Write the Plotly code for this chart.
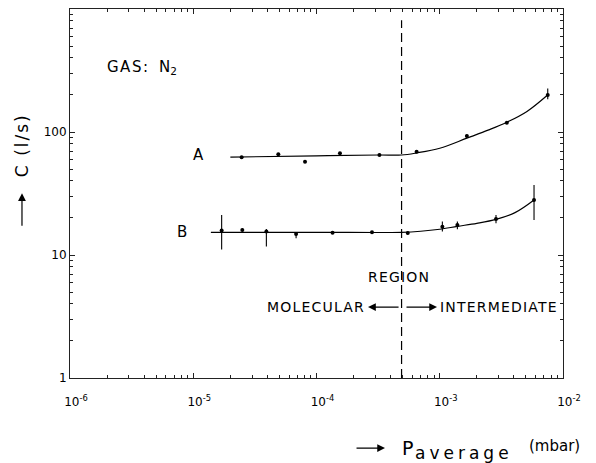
import plotly.graph_objects as go

# ---------------- data ----------------
X_TICK_VALS = [1e-6, 1e-5, 1e-4, 1e-3, 1e-2]
X_TICK_TEXT = ["10<sup>-6</sup>", "10<sup>-5</sup>", "10<sup>-4</sup>", "10<sup>-3</sup>", "10<sup>-2</sup>"]
Y_TICK_VALS = [1, 10, 100, 1000]
Y_TICK_TEXT = ["1", "10", "100", ""]

# curve A measured points (p_average in mbar, C in l/s) with error-bar ends
A_P = [2.47e-5, 4.90e-5, 8.07e-5, 1.55e-4, 3.24e-4, 6.49e-4, 1.66e-3, 3.50e-3, 7.52e-3]
A_C = [62.3, 65.9, 57.4, 67.1, 65.0, 69.2, 92.8, 119, 200]
A_HI = [63.6, 67.3, 58.6, 68.5, 66.4, 70.7, 95.5, 122.5, 226]
A_LO = [61.1, 64.6, 56.2, 65.8, 63.7, 67.8, 90.2, 116, 185]

# curve B measured points with error-bar ends
B_P = [1.70e-5, 2.50e-5, 3.92e-5, 6.83e-5, 1.35e-4, 2.82e-4, 5.50e-4, 1.05e-3, 1.39e-3, 2.86e-3, 5.82e-3]
B_C = [15.8, 16.0, 15.5, 14.8, 15.2, 15.3, 15.1, 17.0, 17.5, 19.6, 28.0]
B_HI = [21.1, 16.4, 16.3, 15.3, 15.5, 15.6, 15.5, 18.7, 18.7, 21.1, 37.1]
B_LO = [11.1, 15.6, 11.7, 13.7, 14.9, 15.0, 14.7, 15.5, 16.2, 18.1, 19.3]

# fitted curves
FIT_A_P = [2.0e-5, 1e-4, 3.2e-4, 4.9e-4, 6.5e-4, 1e-3, 1.66e-3, 2.5e-3, 3.5e-3, 5.1e-3, 7.5e-3]
FIT_A_C = [62.5, 64.0, 65.0, 65.0, 67.6, 73.8, 89.1, 104, 120, 147, 200]
FIT_B_P = [1.39e-5, 1e-4, 4.9e-4, 7e-4, 1e-3, 1.39e-3, 2e-3, 2.86e-3, 4.08e-3, 5.82e-3]
FIT_B_C = [15.3, 15.3, 15.3, 15.6, 16.2, 17.1, 18.1, 19.5, 22.1, 28.0]

# transition between molecular and intermediate flow
TRANSITION_P = 4.9e-4
TRANSITION_C = [1, 810]

MINOR_X = [m * 10.0 ** e for e in range(-6, -2) for m in range(2, 10)]
MINOR_Y = [m * 10.0 ** e for e in range(0, 3) for m in range(2, 10)]

FONT = "DejaVu Sans"
LS = "letter-spacing:1.2px"


def errs(vals, hi, lo):
    return [h - v for v, h in zip(vals, hi)], [v - l for v, l in zip(vals, lo)]


fig = go.Figure()

for px_, cy_ in ((FIT_A_P, FIT_A_C), (FIT_B_P, FIT_B_C)):
    fig.add_trace(go.Scatter(x=px_, y=cy_, mode="lines",
                             line=dict(color="black", width=1.2, shape="spline", smoothing=1.0),
                             hoverinfo="skip"))

for p_, c_, hi_, lo_ in ((A_P, A_C, A_HI, A_LO), (B_P, B_C, B_HI, B_LO)):
    up, dn = errs(c_, hi_, lo_)
    fig.add_trace(go.Scatter(x=p_, y=c_, mode="markers",
                             marker=dict(color="black", size=4),
                             error_y=dict(type="data", symmetric=False, array=up, arrayminus=dn,
                                          color="black", thickness=1.1, width=0)))

fig.add_trace(go.Scatter(x=[TRANSITION_P, TRANSITION_P], y=TRANSITION_C, mode="lines",
                         line=dict(color="black", width=1.2, dash="9px,5px"), hoverinfo="skip"))

axis_common = dict(
    type="log", showline=True, linecolor="#222", linewidth=1, mirror="ticks",
    ticks="inside", ticklen=5, tickcolor="#222", tickwidth=1,
    showgrid=False, zeroline=False, automargin=False,
    tickfont=dict(family=FONT, size=12, color="black"),
)

fig.update_xaxes(**axis_common, range=[-6, -2], tickmode="array",
                 tickvals=X_TICK_VALS, ticktext=X_TICK_TEXT,
                 ticklabelstandoff=13, ticklabelshift=6,
                 minor=dict(tickmode="array", tickvals=MINOR_X, ticks="inside",
                            ticklen=3, tickcolor="#222", showgrid=False))
fig.update_yaxes(**axis_common, range=[0, 3], tickmode="array",
                 tickvals=Y_TICK_VALS, ticktext=Y_TICK_TEXT,
                 minor=dict(tickmode="array", tickvals=MINOR_Y, ticks="inside",
                            ticklen=3, tickcolor="#222", showgrid=False))

ann = []


def txt(text, x, y, size=14, xanchor="center", yanchor="middle", xref="x", yref="y", **kw):
    ann.append(dict(text=text, x=x, y=y, xref=xref, yref=yref, showarrow=False,
                    xanchor=xanchor, yanchor=yanchor,
                    font=dict(family=FONT, size=size, color="black"), **kw))


def arrow(x, y, ax, ay, xref="x", yref="y", axref="x", ayref="y"):
    ann.append(dict(text="", x=x, y=y, ax=ax, ay=ay, xref=xref, yref=yref,
                    axref=axref, ayref=ayref, showarrow=True, arrowhead=2,
                    arrowsize=1.3, arrowwidth=1.2, arrowcolor="black"))


# in-plot labels (log10 coordinates for annotations on log axes)
txt("<span style='letter-spacing:1.5px'>GAS:</span>  N<sub>2</sub>", -5.716, 2.525,
    size=15, xanchor="left")
txt("A", -4.961, 1.813, size=15)
txt("B", -5.091, 1.187, size=15)
txt(f"<span style='{LS}'>REGION</span>", -3.331, 0.821, size=14)
txt(f"<span style='{LS}'>MOLECULAR</span>", -3.59, 0.577, size=14, xanchor="right")
txt(f"<span style='{LS}'>INTERMEDIATE</span>", -3.014, 0.577, size=14, xanchor="left")
arrow(-3.582, 0.577, -3.322, 0.577)
arrow(-3.022, 0.577, -3.282, 0.577)

# axis titles (paper coordinates)
txt("<span style='letter-spacing:2px'>C (l/s)</span>", -0.0974, 0.631, size=17,
    xref="paper", yref="paper", textangle=-90)
arrow(-0.0974, 0.501, 0, 34, xref="paper", yref="paper", axref="pixel", ayref="pixel")
arrow(0.639, -0.19, -30, 0, xref="paper", yref="paper", axref="pixel", ayref="pixel")
txt("P", 0.669, -0.19, size=19, xanchor="left", xref="paper", yref="paper")
txt("<span style='letter-spacing:4px'>average</span>", 0.695, -0.2045, size=17,
    xanchor="left", xref="paper", yref="paper")
txt("(mbar)", 0.927, -0.184, size=15, xanchor="left", xref="paper", yref="paper")

fig.update_layout(
    template="none",
    width=596, height=463,
    margin=dict(l=70, r=33, t=9, b=85, autoexpand=False),
    plot_bgcolor="white", paper_bgcolor="white",
    showlegend=False,
    font=dict(family=FONT, color="black", size=12),
    annotations=ann,
)

fig.write_html("out.html",
               config={"displayModeBar": False, "staticPlot": True},
               post_script="document.body.style.margin='0';document.body.style.overflow='hidden';")
